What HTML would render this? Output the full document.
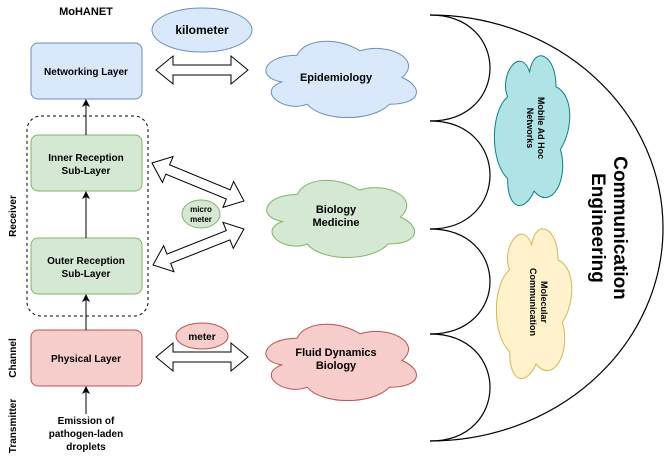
<!DOCTYPE html>
<html><head><style>body{margin:0;background:#fff}svg{display:block}text{font-family:"Liberation Sans",sans-serif;font-weight:bold;fill:#000}</style></head><body>
<svg width="664" height="472" viewBox="0 0 664 472">
<defs>
<marker id="ah" markerWidth="8" markerHeight="8" refX="7" refY="4" orient="auto" markerUnits="userSpaceOnUse"><path d="M0,0 L8,4 L0,8 L2,4 Z" fill="#000"/></marker>
</defs>
<!-- big arc -->
<path d="M430,15 A233,213 0 0 1 430,441" fill="none" stroke="#000" stroke-width="1.2"/>
<g fill="none" stroke="#000" stroke-width="1.2">
<path d="M430,15 C510,15 510,121 430,121"/>
<path d="M430,121 C510,121 510,229 430,229"/>
<path d="M430,229 C510,229 510,334 430,334"/>
<path d="M430,334 C510,334 510,441 430,441"/>
</g>
<!-- rotated clouds -->
<path d="M0.25,0.25 C0.05,0.25 0,0.5 0.16,0.55 C0,0.66 0.18,0.9 0.31,0.8 C0.4,1 0.7,1 0.8,0.8 C1,0.8 1,0.6 0.875,0.5 C1,0.3 0.8,0.1 0.625,0.2 C0.5,0.05 0.3,0.05 0.25,0.25 Z" transform="translate(490,45) scale(88,167) rotate(90 0.5 0.5)" fill="#b0e3e6" stroke="#0e8088" stroke-width="1" vector-effect="non-scaling-stroke"/>
<path d="M0.25,0.25 C0.05,0.25 0,0.5 0.16,0.55 C0,0.66 0.18,0.9 0.31,0.8 C0.4,1 0.7,1 0.8,0.8 C1,0.8 1,0.6 0.875,0.5 C1,0.3 0.8,0.1 0.625,0.2 C0.5,0.05 0.3,0.05 0.25,0.25 Z" transform="translate(492,218) scale(88,167) rotate(90 0.5 0.5)" fill="#fff2cc" stroke="#d6b656" stroke-width="1" vector-effect="non-scaling-stroke"/>
<text transform="translate(538,128) rotate(90)" font-size="9" text-anchor="middle"><tspan x="0" y="0">Mobile Ad Hoc</tspan><tspan x="0" y="11">Networks</tspan></text>
<text transform="translate(541,302) rotate(90)" font-size="9" text-anchor="middle"><tspan x="0" y="0">Molecular</tspan><tspan x="0" y="11">Communication</tspan></text>
<text transform="translate(614,228) rotate(90)" font-size="19" text-anchor="middle"><tspan x="0" y="0">Communication</tspan><tspan x="0" y="22">Engineering</tspan></text>
<!-- clouds left -->
<path d="M0.25,0.25 C0.05,0.25 0,0.5 0.16,0.55 C0,0.66 0.18,0.9 0.31,0.8 C0.4,1 0.7,1 0.8,0.8 C1,0.8 1,0.6 0.875,0.5 C1,0.3 0.8,0.1 0.625,0.2 C0.5,0.05 0.3,0.05 0.25,0.25 Z" transform="translate(255,33) scale(168,89)" fill="#dae8fc" stroke="#6c8ebf" stroke-width="1" vector-effect="non-scaling-stroke"/>
<path d="M0.25,0.25 C0.05,0.25 0,0.5 0.16,0.55 C0,0.66 0.18,0.9 0.31,0.8 C0.4,1 0.7,1 0.8,0.8 C1,0.8 1,0.6 0.875,0.5 C1,0.3 0.8,0.1 0.625,0.2 C0.5,0.05 0.3,0.05 0.25,0.25 Z" transform="translate(256,172) scale(165,90)" fill="#d5e8d4" stroke="#82b366" stroke-width="1" vector-effect="non-scaling-stroke"/>
<path d="M0.25,0.25 C0.05,0.25 0,0.5 0.16,0.55 C0,0.66 0.18,0.9 0.31,0.8 C0.4,1 0.7,1 0.8,0.8 C1,0.8 1,0.6 0.875,0.5 C1,0.3 0.8,0.1 0.625,0.2 C0.5,0.05 0.3,0.05 0.25,0.25 Z" transform="translate(255,316) scale(168,89)" fill="#f8cecc" stroke="#b85450" stroke-width="1" vector-effect="non-scaling-stroke"/>
<text x="336" y="81" font-size="11" text-anchor="middle">Epidemiology</text>
<text x="336" y="213" font-size="11" text-anchor="middle">Biology</text>
<text x="336" y="226" font-size="11" text-anchor="middle">Medicine</text>
<text x="336" y="356" font-size="11" text-anchor="middle">Fluid Dynamics</text>
<text x="336" y="369" font-size="11" text-anchor="middle">Biology</text>
<!-- ellipses -->
<ellipse cx="202" cy="30" rx="50" ry="22" fill="#dae8fc" stroke="#6c8ebf"/>
<text x="202" y="34" font-size="12" text-anchor="middle">kilometer</text>
<ellipse cx="201" cy="214" rx="19" ry="14" fill="#d5e8d4" stroke="#82b366"/>
<text x="201" y="212" font-size="8" text-anchor="middle">micro</text>
<text x="201" y="222" font-size="8" text-anchor="middle">meter</text>
<ellipse cx="202" cy="336" rx="26" ry="13" fill="#f8cecc" stroke="#b85450"/>
<text x="202" y="340" font-size="10" text-anchor="middle">meter</text>
<!-- hollow arrows -->
<g fill="#fff" stroke="#000" stroke-width="1">
<polygon points="156,70 173,56 173,65 231,65 231,56 248,70 231,84 231,75 173,75 173,84"/>
<g transform="translate(152,163) rotate(22.4)"><polygon points="0,0 17,-14 17,-5 82.5,-5 82.5,-14 99.5,0 82.5,14 82.5,5 17,5 17,14"/></g>
<g transform="translate(153,265) rotate(-21.6)"><polygon points="0,0 17,-14 17,-5 80.8,-5 80.8,-14 97.8,0 80.8,14 80.8,5 17,5 17,14"/></g>
<polygon points="156,357 173,343 173,352 231,352 231,343 248,357 231,371 231,362 173,362 173,371"/>
</g>
<!-- dashed receiver -->
<rect x="27" y="116" width="121" height="200" rx="14" fill="none" stroke="#000" stroke-dasharray="3,3"/>
<!-- boxes -->
<rect x="31" y="43" width="111" height="56" rx="7" fill="#dae8fc" stroke="#6c8ebf"/>
<text x="86" y="75" font-size="10" text-anchor="middle">Networking Layer</text>
<rect x="31" y="135" width="111" height="56" rx="7" fill="#d5e8d4" stroke="#82b366"/>
<text x="86" y="161" font-size="10" text-anchor="middle">Inner Reception</text>
<text x="86" y="174" font-size="10" text-anchor="middle">Sub-Layer</text>
<rect x="31" y="238" width="111" height="56" rx="7" fill="#d5e8d4" stroke="#82b366"/>
<text x="86" y="264" font-size="10" text-anchor="middle">Outer Reception</text>
<text x="86" y="277" font-size="10" text-anchor="middle">Sub-Layer</text>
<rect x="31" y="330" width="111" height="56" rx="7" fill="#f8cecc" stroke="#b85450"/>
<text x="86" y="362" font-size="10" text-anchor="middle">Physical Layer</text>
<!-- vertical arrows -->
<g stroke="#000" stroke-width="1" marker-end="url(#ah)">
<line x1="86" y1="135" x2="86" y2="100"/>
<line x1="86" y1="238" x2="86" y2="192"/>
<line x1="86" y1="330" x2="86" y2="295"/>
<line x1="86" y1="414" x2="86" y2="387"/>
</g>
<text x="86" y="424" font-size="10" text-anchor="middle">Emission of</text>
<text x="86" y="437" font-size="10" text-anchor="middle">pathogen-laden</text>
<text x="86" y="450" font-size="10" text-anchor="middle">droplets</text>
<text x="86" y="15" font-size="11" text-anchor="middle">MoHANET</text>
<text transform="translate(16,216) rotate(-90)" font-size="10" text-anchor="middle">Receiver</text>
<text transform="translate(16,358) rotate(-90)" font-size="10" text-anchor="middle">Channel</text>
<text transform="translate(16,426) rotate(-90)" font-size="10" text-anchor="middle">Transmitter</text>
</svg>
</body></html>
